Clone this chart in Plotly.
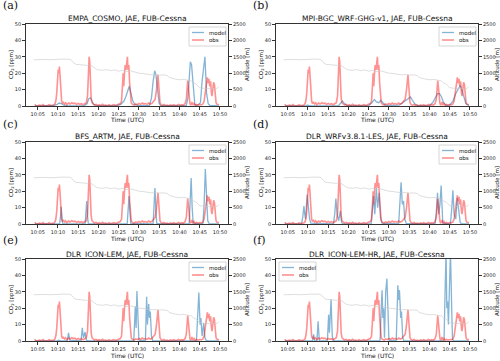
import plotly.graph_objects as go

### Data (time in minutes after 10:00 UTC) ###

tick_vals = [5, 10, 15, 20, 25, 30, 35, 40, 45, 50]
tick_text = ["10:05", "10:10", "10:15", "10:20", "10:25", "10:30", "10:35", "10:40", "10:45", "10:50"]

obs_t = [4.3, 4.5, 5.0, 5.5, 6.0, 6.3, 6.6, 7.0, 7.4, 7.8, 8.2, 8.6, 9.0, 9.3, 9.5, 9.7, 9.9, 10.05, 10.2, 10.35, 10.5, 10.7, 10.9,
         11.1, 11.3, 11.6, 11.9, 12.2, 12.6, 13.0, 13.4, 13.8, 14.2, 14.6, 15.0, 15.4, 15.8, 16.2, 16.6, 17.0, 17.3, 17.5,
         17.7, 17.85, 18.0, 18.2, 18.4, 18.7, 19.0, 19.4, 19.8, 20.2, 20.6, 21.0, 21.4, 21.8, 22.2, 22.6, 23.0, 23.4, 23.8,
         24.2, 24.6, 25.0, 25.4, 25.7, 25.9, 26.0, 26.1, 26.25, 26.4, 26.6, 26.8, 27.0, 27.15, 27.3, 27.5, 27.7, 27.9, 28.1,
         28.4, 28.8, 29.2, 29.6, 30.0, 30.4, 30.8, 31.2, 31.6, 32.0, 32.4, 32.8, 33.2, 33.6, 34.0, 34.3, 34.5, 34.7, 34.85,
         35.0, 35.2, 35.5, 35.8, 36.2, 36.6, 37.0, 37.4, 37.8, 38.2, 38.6, 39.0, 39.4, 39.8, 40.2, 40.6, 41.0, 41.4, 41.7,
         41.9, 42.05, 42.2, 42.4, 42.6, 42.8, 43.1, 43.3, 43.6, 43.9, 44.2, 44.6, 45.0, 45.4, 45.8, 46.1, 46.4, 46.6, 46.9,
         47.1, 47.3, 47.5, 47.7, 47.9, 48.05, 48.25, 48.45, 48.65, 48.85, 49.05, 49.3, 49.6, 49.75]
obs_v = [1.2, 0.2, 0.1, 0.6, 0.1, 0.9, 0.2, 0.3, 0.1, 0.8, 0.2, 0.4, 0.6, 1.5, 3.5, 8.0, 16.0, 22.0, 20.0, 24.0, 19.0, 10.0, 3.0,
         1.5, 2.5, 1.2, 2.0, 0.8, 1.8, 1.2, 2.0, 1.5, 1.7, 0.9, 1.6, 1.0, 1.4, 0.8, 1.2, 2.0, 6.0, 18.0,
         30.0, 27.0, 15.0, 5.0, 2.0, 1.2, 0.6, 1.0, 0.3, 0.8, 0.2, 1.0, 0.3, 0.6, 0.1, 0.8, 0.2, 0.5, 0.9,
         0.3, 0.6, 1.0, 1.5, 3.0, 8.0, 15.0, 20.0, 12.0, 19.0, 25.0, 22.0, 28.0, 30.0, 22.0, 25.0, 14.0, 6.0, 2.0,
         1.0, 0.5, 1.2, 0.8, 1.5, 1.0, 1.8, 1.2, 1.5, 1.0, 1.8, 1.2, 1.6, 2.5, 4.0, 9.0, 16.0, 19.0, 14.0,
         6.0, 2.0, 0.8, 0.4, 0.9, 0.2, 0.6, 0.1, 0.7, 0.3, 0.8, 0.2, 0.5, 1.0, 0.4, 0.8, 0.5, 1.5, 4.0,
         10.0, 15.5, 12.0, 4.0, 1.5, 0.4, 2.5, 0.5, 1.5, 0.3, 1.0, 0.5, 0.9, 0.7, 1.2, 3.0, 9.0, 15.0, 17.5,
         14.0, 16.5, 12.0, 15.0, 8.0, 6.0, 10.0, 14.5, 13.0, 6.0, 2.0, 1.0, 0.5, 0.8, 0.3]

alt_t = [4.0, 5.0, 6.0, 7.0, 8.0, 9.0, 10.0, 11.0, 12.0, 13.0, 13.5, 14.0, 14.5, 15.0, 16.0, 17.0, 18.0, 18.5, 19.0,
         19.5, 20.0, 21.0, 22.0, 23.0, 24.0, 25.0, 26.0, 27.0, 28.0, 29.0, 30.0, 31.0, 32.0, 33.0, 34.0, 35.0, 36.0,
         37.0, 37.5, 38.0, 39.0, 40.0, 41.0, 42.0, 43.0, 43.5, 44.0, 44.5, 45.0, 46.0, 47.0, 48.0, 49.0, 49.7]
alt_v = [1410, 1420, 1415, 1420, 1410, 1425, 1420, 1430, 1420, 1425, 1380, 1300, 1270, 1260, 1250, 1240, 1255, 1200, 1150,
         1120, 1100, 1090, 1110, 1080, 1100, 1060, 1090, 1050, 1070, 1030, 1000, 990, 960, 950, 960, 940, 950,
         930, 870, 850, 820, 800, 810, 790, 760, 700, 680, 620, 560, 540, 530, 540, 520, 580]

model_a_t = [4.3, 8.0, 9.0, 9.8, 10.3, 10.8, 11.4, 12.5, 16.5, 17.2, 17.6, 18.0, 18.4, 18.8, 19.5, 24.5, 25.5, 26.3, 26.8,
             27.3, 27.6, 28.0, 28.5, 29.0, 30.0, 32.6, 33.1, 33.5, 33.9, 34.2, 34.6, 35.0, 35.4, 41.7, 42.1, 42.4, 42.7,
             43.0, 43.4, 43.8, 44.3, 45.2, 45.6, 46.0, 46.3, 46.7, 47.1, 47.5, 49.75]
model_a_v = [0.0, 0.0, 0.3, 1.0, 1.8, 1.5, 0.5, 0.1, 0.1, 1.5, 4.5, 5.0, 3.0, 1.0, 0.2, 0.2, 1.0, 3.0, 6.0,
             10.0, 12.0, 8.0, 3.0, 0.8, 0.2, 0.3, 5.0, 15.0, 21.5, 19.0, 8.0, 1.5, 0.2, 0.2, 5.0, 18.0, 27.0,
             25.0, 10.0, 1.0, 0.2, 2.0, 15.0, 24.0, 30.0, 8.0, 1.5, 0.3, 0.0]

model_b_t = [4.3, 9.3, 9.8, 10.3, 10.8, 17.5, 18.0, 18.5, 19.0, 19.6, 25.0, 25.8, 26.4, 26.9, 27.5, 28.0, 28.5, 29.2,
             32.5, 33.5, 34.2, 34.8, 35.3, 35.8, 36.5, 37.2, 40.0, 40.8, 41.5, 42.0, 42.5, 43.0, 43.5, 44.2, 45.0,
             45.8, 46.5, 47.2, 47.6, 48.0, 48.5, 49.0, 49.75]
model_b_v = [0.0, 0.0, 0.5, 0.4, 0.0, 0.0, 1.5, 3.0, 1.5, 0.2, 0.3, 2.0, 4.0, 2.5, 2.0, 3.5, 2.0, 0.3,
             0.5, 2.5, 3.5, 4.5, 5.5, 3.5, 1.0, 0.2, 0.3, 2.0, 5.5, 7.5, 7.5, 5.5, 2.0, 0.3, 0.5,
             3.0, 7.5, 11.0, 12.5, 10.0, 5.0, 1.5, 0.2]

model_c_t = [4.3, 10.4, 10.6, 10.8, 11.0, 11.2, 16.7, 16.9, 17.1, 17.3, 17.5, 27.1, 27.3, 27.55, 27.8, 28.0, 33.5, 33.7,
             33.95, 34.2, 34.4, 42.4, 42.6, 42.9, 43.15, 43.4, 45.8, 46.1, 46.4, 46.7, 47.0, 47.4, 49.75]
model_c_v = [0.0, 0.0, 4.0, 10.5, 3.0, 0.0, 0.0, 5.0, 14.0, 5.0, 0.0, 0.0, 6.0, 17.0, 6.0, 0.3, 0.0, 8.0,
             22.0, 8.0, 0.3, 0.0, 10.0, 28.0, 10.0, 0.5, 0.0, 12.0, 33.5, 14.0, 2.0, 0.0, 0.0]

model_d_t = [4.3, 8.4, 8.7, 9.0, 9.2, 9.4, 9.8, 10.1, 10.4, 10.7, 16.3, 16.6, 16.9, 17.2, 17.6, 18.0, 18.3, 18.6, 25.6,
             25.9, 26.2, 26.5, 26.9, 27.2, 27.6, 27.9, 28.3, 32.4, 32.7, 33.0, 33.3, 33.6, 33.9, 34.3, 41.4, 41.7,
             42.0, 42.3, 42.6, 42.9, 43.3, 45.2, 45.5, 45.8, 46.1, 46.5, 46.9, 47.2, 47.6, 48.0, 49.75]
model_d_v = [0.0, 0.0, 4.0, 11.0, 6.0, 3.0, 18.0, 10.0, 3.0, 0.5, 0.0, 6.0, 15.5, 6.0, 2.0, 8.0, 1.0, 0.0, 0.0,
             8.0, 17.0, 6.0, 22.0, 10.0, 19.0, 4.0, 0.5, 0.0, 10.0, 25.5, 12.0, 14.0, 3.0, 0.3, 0.0, 7.0,
             19.0, 6.0, 12.0, 23.5, 0.5, 0.0, 9.0, 20.5, 6.0, 3.0, 16.0, 8.0, 1.0, 0.0, 0.0]

model_e_t = [4.3, 9.5, 10.2, 10.6, 12.3, 12.6, 12.9, 15.7, 16.0, 16.3, 16.7, 17.0, 17.4, 28.7, 28.9, 29.1, 29.3, 29.5,
             29.8, 30.0, 31.6, 31.9, 32.1, 32.4, 32.6, 32.8, 33.1, 33.4, 44.2, 44.5, 44.8, 45.1, 45.3, 45.6, 46.0,
             46.3, 46.6, 47.0, 49.75]
model_e_v = [0.0, 0.0, 0.5, 0.0, 0.0, 5.0, 0.5, 0.0, 8.0, 2.0, 5.5, 0.5, 0.0, 0.0, 10.0, 21.0, 8.0, 30.5,
             12.0, 0.5, 0.0, 27.0, 10.0, 22.5, 14.0, 18.0, 3.0, 0.0, 0.0, 12.0, 29.5, 10.0, 14.0, 3.0, 11.0,
             2.0, 0.5, 0.0, 0.0]

model_f_t = [4.3, 11.1, 11.4, 11.6, 12.2, 12.5, 12.8, 14.8, 15.1, 15.3, 15.7, 16.0, 16.3, 27.8, 28.1, 28.3, 28.5, 28.7,
             28.9, 29.2, 29.5, 29.8, 30.0, 31.8, 32.0, 32.2, 32.4, 32.6, 32.9, 33.1, 33.4, 33.7, 43.6, 43.9, 44.1,
             44.3, 44.5, 44.7, 44.9, 45.2, 45.5, 45.7, 46.0, 49.75]
model_f_v = [0.0, 0.0, 4.0, 0.0, 0.0, 12.0, 0.0, 0.0, 16.0, 5.0, 25.5, 3.0, 0.0, 0.0, 20.0, 31.0, 14.0, 20.0,
             2.0, 30.0, 38.0, 14.0, 0.5, 0.0, 20.0, 34.0, 25.0, 31.0, 14.0, 18.0, 2.0, 0.0, 0.0, 30.0, 55.0,
             20.0, 24.0, 10.0, 27.0, 55.0, 20.0, 1.0, 0.0, 0.0]

panel_labels = ["(a)", "(b)", "(c)", "(d)", "(e)", "(f)"]
panel_titles = ["EMPA_COSMO, JAE, FUB-Cessna", "MPI-BGC_WRF-GHG-v1, JAE, FUB-Cessna",
                "BFS_ARTM, JAE, FUB-Cessna", "DLR_WRFv3.8.1-LES, JAE, FUB-Cessna",
                "DLR_ICON-LEM, JAE, FUB-Cessna", "DLR_ICON-LEM-HR, JAE, FUB-Cessna"]
model_t = [model_a_t, model_b_t, model_c_t, model_d_t, model_e_t, model_f_t]
model_v = [model_a_v, model_b_v, model_c_v, model_d_v, model_e_v, model_f_v]

### Layout geometry (window pixels, 500x361) ###

W, H = 500, 361
col_px = [(26, 228), (276, 478)]
row_px = [(24, 106), (142, 224), (259, 341)]

def px(sx):
    return sx / W

def py(sy):
    return 1 - sy / H

BLUE = "rgba(31,119,180,0.55)"
RED = "rgba(255,10,10,0.45)"

fig = go.Figure()
layout = dict(width=W, height=H, margin=dict(l=0, r=0, t=0, b=0, autoexpand=False), plot_bgcolor="white",
              paper_bgcolor="white", font=dict(family="DejaVu Sans", size=5, color="#333"), showlegend=False,
              annotations=[], shapes=[])

axis_style = dict(showline=True, linecolor="#333", linewidth=0.8, ticks="outside", ticklen=3, tickwidth=0.8,
                  tickcolor="#333", showgrid=False, zeroline=False, tickangle=0, automargin=False,
                  tickfont=dict(family="DejaVu Sans", size=5, color="#222"))

def txt(text, x, y, size=7, angle=0, xanchor="center", family="DejaVu Sans", xref="paper", yref="paper"):
    return dict(text=text, x=x, y=y, xref=xref, yref=yref, xanchor=xanchor, yanchor="middle", showarrow=False,
                textangle=angle, font=dict(family=family, size=size, color="#111"))

for i in range(6):
    row, col = i // 2, i % 2
    x0, x1 = col_px[col]
    y0, y1 = row_px[row]
    pw, ph = x1 - x0, y1 - y0
    xn = "" if i == 0 else str(i + 1)
    yp = "" if i == 0 else str(2 * i + 1)
    ys = str(2 * i + 2)

    fig.add_trace(go.Scatter(x=model_t[i], y=model_v[i], mode="lines", name="model",
                             line=dict(color=BLUE, width=1.3), xaxis="x" + xn, yaxis="y" + yp))
    fig.add_trace(go.Scatter(x=obs_t, y=obs_v, mode="lines", name="obs",
                             line=dict(color=RED, width=1.6), xaxis="x" + xn, yaxis="y" + yp))
    fig.add_trace(go.Scatter(x=alt_t, y=alt_v, mode="lines", name="altitude",
                             line=dict(color="rgba(200,200,200,0.6)", width=1),
                             xaxis="x" + xn, yaxis="y" + ys))

    xd = [px(x0), px(x1)]
    yd = [py(y1), py(y0)]
    layout["xaxis" + xn] = dict(axis_style, domain=xd, anchor="y" + yp, range=[2.1, 52], tickvals=tick_vals,
                                ticktext=tick_text, mirror=True)
    layout["yaxis" + yp] = dict(axis_style, domain=yd, anchor="x" + xn, range=[0, 50], dtick=10)
    layout["yaxis" + ys] = dict(axis_style, domain=yd, anchor="x" + xn, overlaying="y" + yp, side="right",
                                range=[0, 2500], dtick=500)

    # titles and axis labels
    anns = layout["annotations"]
    anns.append(txt(panel_titles[i], px((x0 + x1) / 2), py(y0 - 5), size=7.5))
    anns.append(txt(panel_labels[i], px(1 if col == 0 else 251), py(y0 - 18), size=11,
                    xanchor="left", family="DejaVu Serif"))
    anns.append(txt("Time (UTC)", px((x0 + x1) / 2), py(y1 + 14), size=6))
    anns.append(txt("CO<sub>2</sub> [ppm]", px(x0 - 15), py((y0 + y1) / 2), size=5.5, angle=-90))
    anns.append(txt("Altitude [m]", px(x1 + 19), py((y0 + y1) / 2), size=5.5, angle=-90))

    # legend box drawn inside the axes
    bx0 = 3 if i == 5 else pw - 39
    bx1 = bx0 + 37
    xr, yr = "x" + xn + " domain", "y" + yp + " domain"
    layout["shapes"].append(dict(type="rect", xref=xr, yref=yr, x0=bx0 / pw, x1=bx1 / pw,
                                 y0=1 - 22 / ph, y1=1 - 3 / ph, line=dict(color="#ccc", width=0.8),
                                 fillcolor="rgba(255,255,255,0.8)"))
    for k, (name, colr, lw) in enumerate([("model", BLUE, 1.3), ("obs", RED, 1.6)]):
        ly = 1 - (8.5 + 7.5 * k) / ph
        layout["shapes"].append(dict(type="line", xref=xr, yref=yr, x0=(bx0 + 3) / pw, x1=(bx0 + 15) / pw,
                                     y0=ly, y1=ly, line=dict(color=colr, width=lw)))
        anns.append(txt(name, (bx0 + 18) / pw, ly, size=5.5, xanchor="left", xref=xr, yref=yr))

fig.update_layout(layout)
# drop the browser's default 8px body margin so the figure fills the window
fig.write_html("out.html", config={"displayModeBar": False},
               post_script="document.body.style.margin = '0'; document.body.style.overflow = 'hidden';")
